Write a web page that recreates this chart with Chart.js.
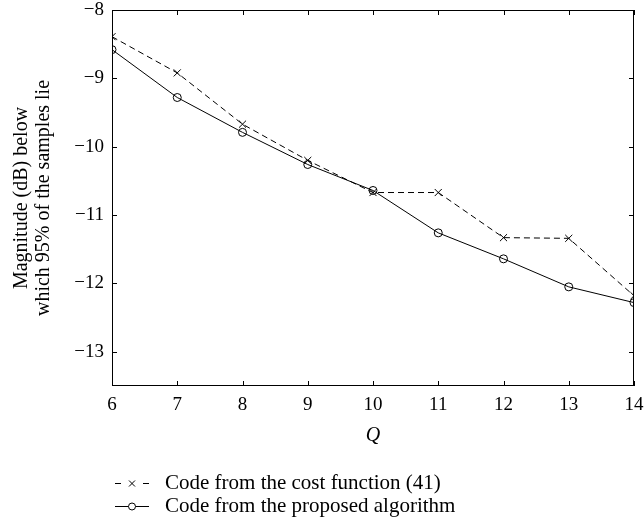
<!DOCTYPE html>
<html><head><meta charset="utf-8">
<script src="https://cdn.jsdelivr.net/npm/chart.js@4"></script>
<style>html,body{margin:0;padding:0;background:#fff;}canvas{display:block;}</style>
</head><body>
<canvas id="c" width="644" height="527"></canvas>
<script>
const qValues = [6, 7, 8, 9, 10, 11, 12, 13, 14];
const costFunction = [-8.39, -8.92, -9.67, -10.20, -10.67, -10.67, -11.33, -11.34, -12.18];
const proposed = [-8.58, -9.28, -9.79, -10.26, -10.64, -11.26, -11.64, -12.05, -12.28];
const yTicks = [-13, -12, -11, -10, -9, -8];
const xTicks = [6, 7, 8, 9, 10, 11, 12, 13, 14];
const seriesNames = ['Code from the cost function (41)', 'Code from the proposed algorithm'];
const FONT = "'Liberation Serif', 'DejaVu Serif', serif";

const fmt = v => (v < 0 ? '\u2212' + Math.abs(v) : String(v));

const frameTicks = {
  id: 'frameTicks',
  afterDatasetsDraw(chart) {
    const {ctx, chartArea: a, scales: {x, y}} = chart;
    ctx.save();
    ctx.strokeStyle = '#000';
    ctx.lineWidth = 1;
    ctx.strokeRect(a.left + 0.5, a.top + 0.5, a.right - a.left - 1, a.bottom - a.top - 1);
    ctx.beginPath();
    const L = 5;
    xTicks.forEach(v => {
      const px = Math.round(x.getPixelForValue(v)) + 0.5;
      ctx.moveTo(px, a.bottom); ctx.lineTo(px, a.bottom - L);
      ctx.moveTo(px, a.top); ctx.lineTo(px, a.top + L);
    });
    yTicks.forEach(v => {
      const py = Math.round(y.getPixelForValue(v)) + 0.5;
      ctx.moveTo(a.left, py); ctx.lineTo(a.left + L, py);
      ctx.moveTo(a.right, py); ctx.lineTo(a.right - L, py);
    });
    ctx.stroke();
    ctx.restore();
  },
  afterDraw(chart) {
    const ctx = chart.ctx;
    ctx.save();
    ctx.strokeStyle = '#000';
    ctx.fillStyle = '#000';
    ctx.lineWidth = 1;
    ctx.font = "21px " + FONT;
    ctx.textBaseline = 'middle';
    const x0 = 115, x1 = 149, tx = 165;
    const rows = [483, 506];
    const cx = (x0 + x1) / 2;
    // row 1: dashed with cross
    let yy = rows[0] + 0.5;
    ctx.beginPath();
    ctx.moveTo(x0, yy); ctx.lineTo(x0 + 6, yy);
    ctx.moveTo(x1 - 6, yy); ctx.lineTo(x1, yy);
    ctx.stroke();
    ctx.beginPath();
    ctx.moveTo(cx - 3, yy - 3); ctx.lineTo(cx + 3, yy + 3);
    ctx.moveTo(cx - 3, yy + 3); ctx.lineTo(cx + 3, yy - 3);
    ctx.stroke();
    ctx.fillText(seriesNames[0], tx, rows[0]);
    // row 2: solid with circle
    yy = rows[1] + 0.5;
    ctx.beginPath();
    ctx.moveTo(x0, yy); ctx.lineTo(cx - 3.5, yy);
    ctx.moveTo(cx + 3.5, yy); ctx.lineTo(x1, yy);
    ctx.stroke();
    ctx.beginPath();
    ctx.arc(cx, yy, 3.5, 0, Math.PI * 2);
    ctx.stroke();
    ctx.fillText(seriesNames[1], tx, rows[1]);
    ctx.restore();
  }
};

new Chart(document.getElementById('c'), {
  type: 'line',
  data: {
    datasets: [
      {
        label: seriesNames[0],
        data: qValues.map((q, i) => ({x: q, y: costFunction[i]})),
        borderColor: '#000', borderWidth: 1, borderDash: [6, 4],
        pointStyle: 'crossRot', pointRadius: 5, pointBorderColor: '#000', pointBorderWidth: 1,
        pointBackgroundColor: '#000', fill: false, tension: 0
      },
      {
        label: seriesNames[1],
        data: qValues.map((q, i) => ({x: q, y: proposed[i]})),
        borderColor: '#000', borderWidth: 1,
        pointStyle: 'circle', pointRadius: 4, pointBorderColor: '#000', pointBorderWidth: 1,
        pointBackgroundColor: 'rgba(255,255,255,0)', fill: false, tension: 0
      }
    ]
  },
  options: {
    responsive: false,
    animation: false,
    devicePixelRatio: 1,
    layout: {padding: {left: 0, right: 0, top: 0, bottom: 79}},
    plugins: {legend: {display: false}, tooltip: {enabled: false}},
    scales: {
      x: {
        type: 'linear', min: 6, max: 14,
        afterBuildTicks: s => { s.ticks = xTicks.map(v => ({value: v})); },
        afterFit: s => { s.height = 62; s.paddingLeft = 0; s.paddingRight = 10; },
        grid: {display: false, drawTicks: false},
        border: {display: false},
        ticks: {color: '#000', font: {family: FONT, size: 19}, padding: 8, maxRotation: 0,
                callback: v => fmt(v)},
        title: {display: true, text: 'Q', color: '#000',
                font: {family: FONT, size: 20, style: 'italic'}, padding: {top: 2, bottom: 0}}
      },
      y: {
        type: 'linear', min: -13.5, max: -8,
        afterBuildTicks: s => { s.ticks = yTicks.map(v => ({value: v})); },
        afterFit: s => { s.width = 112; s.paddingTop = 10; s.paddingBottom = 0; },
        grid: {display: false, drawTicks: false},
        border: {display: false},
        ticks: {color: '#000', font: {family: FONT, size: 19}, padding: 8,
                callback: v => fmt(v)},
        title: {display: true, text: ['Magnitude (dB) below', 'which 95% of the samples lie'],
                color: '#000', font: {family: FONT, size: 20, lineHeight: 1.1}, padding: {top: 11, bottom: 0}}
      }
    }
  },
  plugins: [frameTicks]
});
</script>
</body></html>
